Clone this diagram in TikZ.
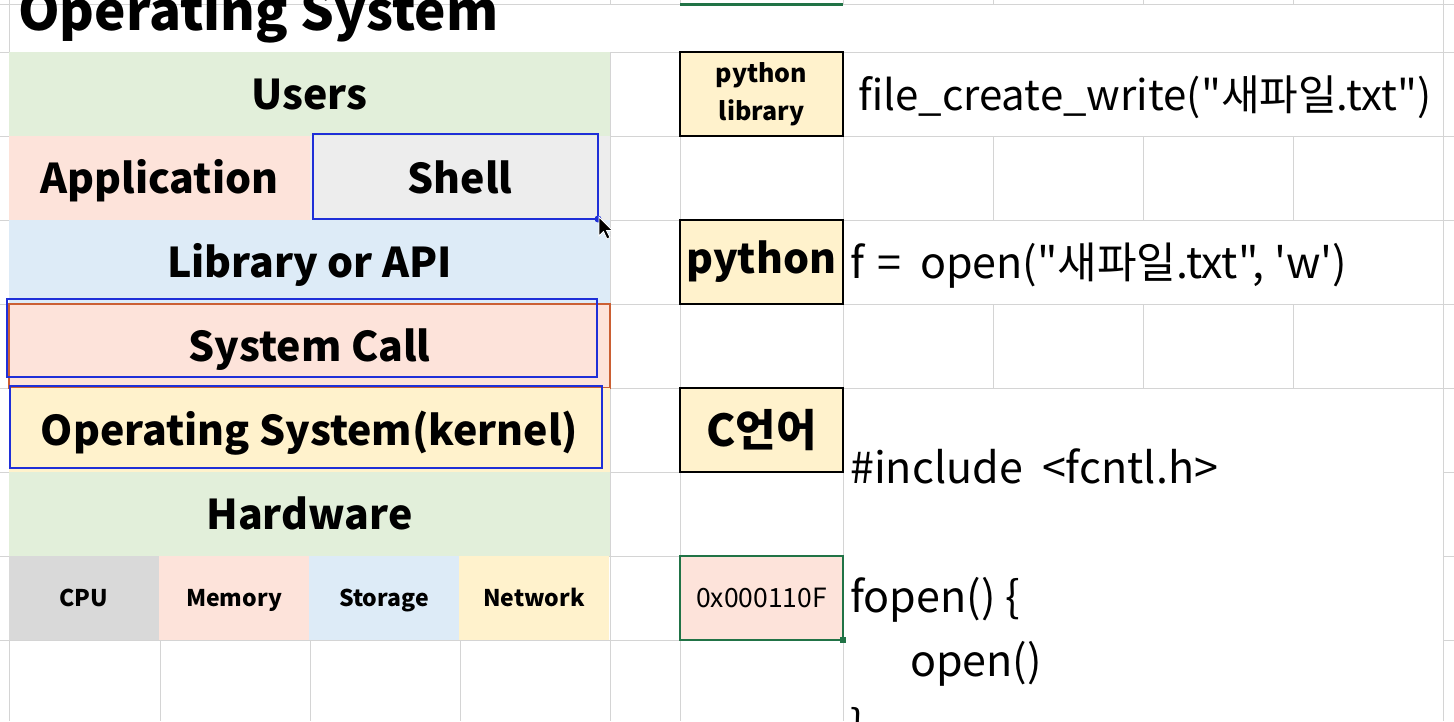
\documentclass[tikz,border=0pt]{standalone}
\usepackage{fontspec}
\setmainfont{Noto Sans CJK KR}
\newfontfamily\codefont{Noto Sans CJK KR}
\usetikzlibrary{positioning}

\definecolor{cellgreen}{HTML}{E2EFDA}
\definecolor{cellpink}{HTML}{FDE3DA}
\definecolor{cellgray}{HTML}{EDEDED}
\definecolor{cpugray}{HTML}{D9D9D9}
\definecolor{cellblue}{HTML}{DDEBF7}
\definecolor{cellyellow}{HTML}{FFF2CC}
\definecolor{gridgray}{HTML}{D4D4D4}
\definecolor{markblue}{HTML}{1F2FD8}
\definecolor{callorange}{HTML}{CB5F33}
\definecolor{selgreen}{HTML}{217346}

\begin{document}
\begin{tikzpicture}[
    x=1pt, y=-1pt,
    node distance=0pt,
    grid/.style={gridgray, line width=1pt},
    layer/.style={rectangle, inner sep=0pt, outer sep=0pt, anchor=north west, minimum height=84pt, text height=40pt, text depth=10pt, font=\fontsize{41}{48}\selectfont\bfseries},
    part/.style={layer, minimum width=150pt, text height=23pt, text depth=6pt, font=\fontsize{23}{28}\selectfont\bfseries},
    tag/.style={rectangle, inner sep=0pt, outer sep=0pt, anchor=north west, minimum width=163pt, minimum height=84pt, fill=cellyellow, draw=black, line width=2.5pt, align=center},
    code/.style={anchor=base west, inner sep=0pt, font=\codefont\fontsize{43}{50}\selectfont},
    markbox/.style={markblue, line width=2.5pt}
]
\useasboundingbox (0,0) rectangle (1454,721);
\clip (0,0) rectangle (1454,721);

% sheet grid
\foreach \y in {4,52,136,220,304,388}
    \draw[grid] (0,\y) -- (1454,\y);
\foreach \y in {472,556,640} {
    \draw[grid] (0,\y) -- (843,\y);
    \draw[grid] (1443,\y) -- (1454,\y);
}
\foreach \x in {9,1443}
    \draw[grid] (\x,0) -- (\x,721);
\foreach \x in {610,680,843} {
    \draw[grid] (\x,0) -- (\x,4);
    \draw[grid] (\x,52) -- (\x,721);
}
\foreach \x in {160,310,460} {
    \draw[grid] (\x,0) -- (\x,4);
    \draw[grid] (\x,640) -- (\x,721);
}
\foreach \x in {993,1143,1293} {
    \draw[grid] (\x,0) -- (\x,4);
    \draw[grid] (\x,136) -- (\x,220);
    \draw[grid] (\x,304) -- (\x,388);
}

\node[anchor=base west, inner sep=0pt, font=\fontsize{53}{60}\selectfont\bfseries] (title) at (18,30) {Operating System};

% OS layers
\node[layer, fill=cellgreen, minimum width=601pt] (users) at (9,52) {Users};
\node[layer, fill=cellpink, minimum width=301pt] (application) at (9,136) {Application};
\node[layer, fill=cellgray, minimum width=300pt, right=of application] (shell) {Shell};
\node[layer, fill=cellblue, minimum width=601pt] (library) at (9,220) {Library or API};
\node[layer, fill=cellpink, minimum width=601pt, draw=callorange, line width=2.5pt] (syscall) at (9,304) {System Call};
\node[layer, fill=cellyellow, minimum width=601pt] (kernel) at (9,388) {Operating System(kernel)};
\node[layer, fill=cellgreen, minimum width=601pt] (hardware) at (9,472) {Hardware};

\node[part, fill=cpugray] (cpu) at (9,556) {CPU};
\node[part, fill=cellpink, right=of cpu] (memory) {Memory};
\node[part, fill=cellblue, right=of memory] (storage) {Storage};
\node[part, fill=cellyellow, right=of storage] (network) {Network};

% highlight boxes
\draw[markbox] (313,134) rectangle (598,219);
\draw[markbox] (7,299) rectangle (597,377);
\draw[markbox] (10,386) rectangle (602,468);
\fill[markblue] (598,219) circle (3.5pt);
\draw[fill=black, draw=white, line width=0.8pt] (599,217) -- (599,236) -- (603.5,231.5) -- (607,239) -- (610,237.5) -- (606.5,230.5) -- (612.5,230.5) -- cycle;

% language column
\node[tag, font=\fontsize{25}{38}\selectfont\bfseries] (pylib) at (680,52) {python\\library};
\node[tag, font=\fontsize{41}{48}\selectfont\bfseries] (python) at (680,220) {python};
\node[tag, font=\fontsize{44}{50}\selectfont\bfseries] (clang) at (680,388) {C언어};
\node[tag, fill=cellpink, draw=selgreen, line width=2pt, font=\fontsize{26.5}{32}\selectfont] (address) at (680,556) {0x000110F};
\fill[selgreen] (address.south east) ++(-3,-3) rectangle ++(6,6);
\draw[selgreen, line width=3pt] (680,4) -- (843,4);

% code samples
\node[code, font=\codefont\fontsize{42}{50}\selectfont] (pylibcall) at (858,110) {file\_create\_write("새파일.txt")};
\node[code] (pyopen) at (850,278) {f\hspace{13pt}=\hspace{19pt}open("새파일.txt", 'w')};
\node[code] (include) at (850,483) {\#include \ <fcntl.h>};
\node[code] (fopen) at (850,612) {fopen() \{};
\node[code] (openline) at (910,676) {open()};
\node[code] (closing) at (850,741) {\}};

\end{tikzpicture}
\end{document}
